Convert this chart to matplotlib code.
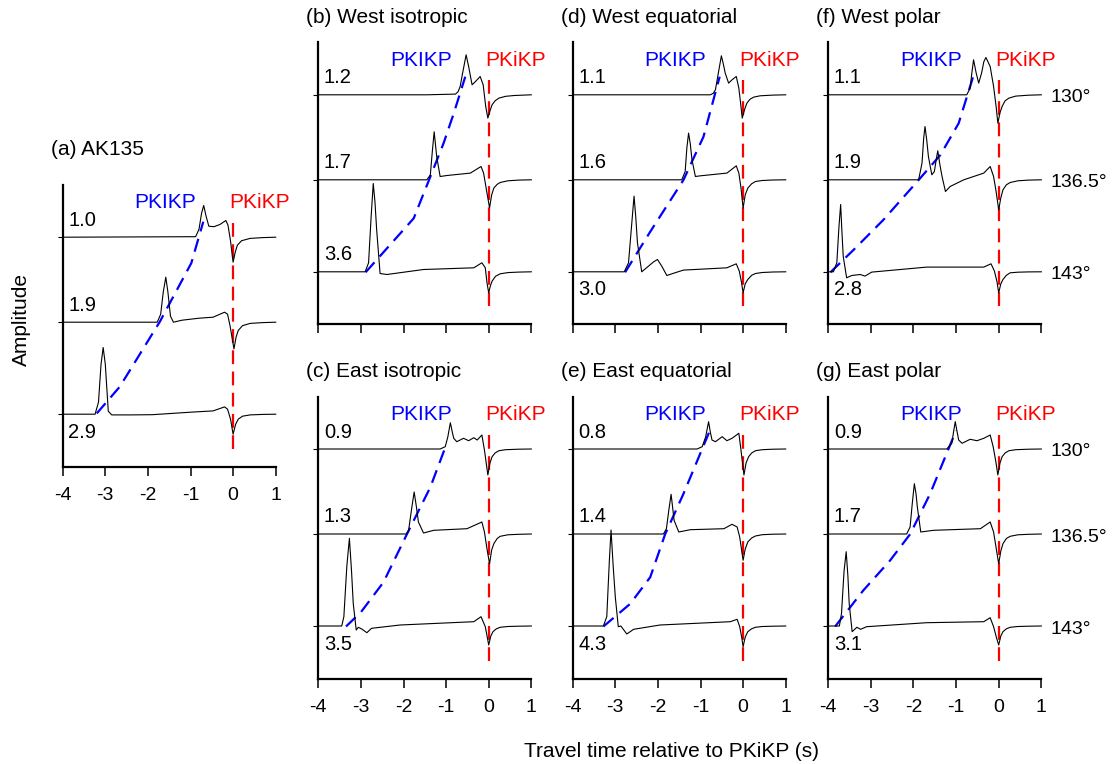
import matplotlib
matplotlib.use("Agg")
import matplotlib.pyplot as plt

plt.rcParams['font.family'] = ['Liberation Sans', 'DejaVu Sans']
plt.rcParams['axes.unicode_minus'] = False

W, H = 1112, 764

titles = ['(a) AK135', '(b) West isotropic', '(c) East isotropic',
          '(d) West equatorial', '(e) East equatorial',
          '(f) West polar', '(g) East polar']
distances = ['130°', '136.5°', '143°']

# amplitude scale factor written beside each trace (130, 136.5, 143 deg)
scale_a = ['1.0', '1.9', '2.9']
scale_b = ['1.2', '1.7', '3.6']
scale_c = ['0.9', '1.3', '3.5']
scale_d = ['1.1', '1.6', '3.0']
scale_e = ['0.8', '1.4', '4.3']
scale_f = ['1.1', '1.9', '2.8']
scale_g = ['0.9', '1.7', '3.1']

# traces: time (s, relative to PKiKP) and amplitude
t_a = [
    [-4, -0.88, -0.80, -0.74, -0.69, -0.64, -0.57, -0.45, -0.31, -0.17, -0.12, -0.06, 0.0, 0.05, 0.1, 0.2, 0.4, 0.7, 1.0],
    [-4, -1.78, -1.70, -1.64, -1.58, -1.53, -1.47, -1.40, -1.2, -0.8, -0.47, -0.2, -0.13, -0.07, 0.02, 0.07, 0.12, 0.22, 0.4, 0.7, 1.0],
    [-4, -3.24, -3.16, -3.10, -3.05, -3.00, -2.93, -2.85, -2.4, -1.9, -1.0, -0.47, -0.2, -0.13, -0.06, 0.0, 0.06, 0.12, 0.22, 0.4, 0.7, 1.0],
]
amp_a = [
    [0, 0.5, 8, 24, 31.7, 22, 11, 10.5, 12.7, 16.7, 12, -4, -25, -15, -8, -3.5, -1.2, -0.4, 0],
    [0, 0, 8, 30, 45, 30, 6, 0, 2, 4, 5, 10, 8, -4, -26.7, -15, -8.3, -3.5, -1.2, -0.4, 0],
    [0, 0, 12, 50, 66.7, 50, 3, -0.7, -0.7, -0.5, 2, 3.3, 7.3, 5, -5, -20, -10, -5, -2, -0.7, -0.2, 0],
]
t_b = [
    [-4, -1.45, -0.78, -0.72, -0.67, -0.62, -0.53, -0.47, -0.39, -0.31, -0.2, -0.13, -0.07, -0.02, 0.03, 0.08, 0.15, 0.24, 0.4, 0.6, 1.0],
    [-4, -1.45, -1.37, -1.32, -1.28, -1.22, -1.14, -0.98, -0.43, -0.18, -0.12, -0.04, 0.02, 0.07, 0.12, 0.2, 0.27, 0.45, 0.7, 1.0],
    [-4, -2.9, -2.82, -2.76, -2.71, -2.67, -2.63, -2.55, -2.39, -1.53, -0.35, -0.16, -0.08, -0.04, 0.0, 0.04, 0.08, 0.16, 0.27, 0.45, 0.7, 1.0],
]
amp_b = [
    [0, 0, 0.7, 3, 8.3, 20, 40, 28, 10, 13.3, 18.3, 10, -11.7, -23.3, -16, -10, -6, -3.3, -1.5, -0.7, 0],
    [0, 0, 5, 30, 48, 23, 3.3, 4.3, 6.7, 13.3, 6.7, -13.3, -28, -15, -8.3, -4.5, -2.7, -1, -0.3, 0],
    [0, 0, 9, 55, 88.3, 70, 42, -1.7, -2.7, 2.3, 4, 9, 4, -11, -21, -14, -9.3, -4.5, -2, -0.8, -0.3, 0],
]
t_c = [
    [-4, -1.14, -1.02, -0.96, -0.9, -0.85, -0.82, -0.75, -0.59, -0.47, -0.35, -0.27, -0.16, -0.1, -0.02, 0.03, 0.08, 0.15, 0.24, 0.4, 0.7, 1.0],
    [-4, -1.94, -1.88, -1.81, -1.75, -1.70, -1.65, -1.53, -1.29, -0.51, -0.16, -0.1, -0.04, 0.02, 0.07, 0.12, 0.2, 0.27, 0.45, 0.7, 1.0],
    [-4, -3.45, -3.4, -3.33, -3.27, -3.22, -3.18, -3.11, -3.06, -2.98, -2.86, -2.75, -2.08, -0.35, -0.18, -0.08, -0.03, 0.0, 0.05, 0.1, 0.18, 0.27, 0.45, 0.7, 1.0],
]
amp_c = [
    [0, 0, 2.3, 12, 26.3, 16, 10.7, 7.3, 10.7, 8.3, 11.3, 9, 14, -1, -26, -14, -7.7, -4, -1.7, -0.7, -0.2, 0],
    [0, 0, 3.7, 25, 42, 28, 12, 1, 3.7, 5.3, 12, 2, -15, -29.7, -16, -9.7, -4.5, -2.3, -0.8, -0.3, 0],
    [0, 0, 9.3, 60, 87.7, 55, 22.7, -4, -1.3, -3, -6.7, -2.3, 1, 4.3, 9.3, -0.7, -12, -19, -10, -5.7, -2.8, -1.3, -0.5, -0.2, 0],
]
t_d = [
    [-4, -0.77, -0.70, -0.65, -0.58, -0.51, -0.46, -0.42, -0.34, -0.26, -0.16, -0.1, -0.06, -0.02, 0.04, 0.09, 0.16, 0.25, 0.4, 0.7, 1.0],
    [-4, -1.44, -1.36, -1.32, -1.28, -1.24, -1.2, -1.12, -1.0, -0.38, -0.16, -0.1, -0.05, 0.0, 0.05, 0.11, 0.2, 0.29, 0.45, 0.7, 1.0],
    [-4, -2.79, -2.69, -2.62, -2.56, -2.52, -2.48, -2.38, -2.22, -2.1, -2.01, -1.91, -1.79, -1.6, -1.4, -0.38, -0.16, -0.09, -0.04, 0.0, 0.05, 0.11, 0.2, 0.29, 0.45, 0.7, 1.0],
]
amp_d = [
    [0, 0, 1.5, 5, 22, 39, 30, 21.7, 11.7, 15, 18.3, 6.7, -8, -23.3, -14, -8.3, -4.5, -2.3, -1, -0.3, 0],
    [0, 0, 8.3, 32, 46.7, 36, 20, 3.3, 4, 6.7, 14, 6.7, -8, -28.3, -15, -8.3, -4, -1.7, -0.7, -0.2, 0],
    [0, 0, 9, 45, 75.7, 55, 29, 0, 5.7, 10, 12.3, 5.7, -3.7, -1, 1.7, 4, 8, 0.7, -10, -21, -12, -7.7, -3.5, -1.7, -0.7, -0.2, 0],
]
t_e = [
    [-4, -1.08, -0.96, -0.88, -0.81, -0.77, -0.73, -0.65, -0.49, -0.38, -0.26, -0.1, -0.05, 0.02, 0.07, 0.13, 0.2, 0.29, 0.45, 0.7, 1.0],
    [-4, -1.87, -1.8, -1.74, -1.69, -1.65, -1.62, -1.51, -1.24, -0.45, -0.26, -0.14, -0.08, 0.0, 0.05, 0.11, 0.2, 0.29, 0.45, 0.7, 1.0],
    [-4, -3.28, -3.2, -3.14, -3.1, -3.05, -3.0, -2.93, -2.87, -2.73, -2.57, -1.95, -0.3, -0.14, -0.08, -0.03, 0.0, 0.05, 0.11, 0.2, 0.29, 0.45, 0.7, 1.0],
]
amp_e = [
    [0, 0, 2.3, 12, 27.3, 17, 9, 7.3, 12.3, 8.3, 10.7, 15.7, -1, -26, -14, -7.7, -4, -1.7, -0.7, -0.2, 0],
    [0, 0, 5.3, 25, 39.7, 25, 13.7, 2, 4.3, 5.3, 9.7, 7, -3, -26.3, -15, -8, -4, -2, -0.7, -0.2, 0],
    [0, 0, 9.3, 65, 96, 60, 29, -0.7, 0, -8, -3.3, 1, 4.3, 6.7, -0.7, -12, -20.7, -11, -5.7, -2.8, -1.3, -0.5, -0.2, 0],
]
t_f = [
    [-4, -0.75, -0.67, -0.63, -0.59, -0.53, -0.47, -0.40, -0.35, -0.3, -0.2, -0.12, -0.06, -0.02, 0.03, 0.08, 0.15, 0.24, 0.4, 0.7, 1.0],
    [-4, -1.88, -1.8, -1.76, -1.73, -1.69, -1.65, -1.57, -1.51, -1.46, -1.43, -1.38, -1.33, -1.25, -1.14, -0.82, -0.35, -0.2, -0.12, -0.06, 0.0, 0.05, 0.1, 0.18, 0.27, 0.45, 0.7, 1.0],
    [-4, -3.88, -3.8, -3.75, -3.71, -3.68, -3.65, -3.57, -3.45, -3.25, -3.14, -2.98, -1.69, -0.35, -0.18, -0.1, -0.04, 0.0, 0.05, 0.1, 0.18, 0.27, 0.45, 0.7, 1.0],
]
amp_f = [
    [0, 0, 6.7, 22, 35, 22, 11.7, 22, 33, 37.3, 28.3, 8.3, -12, -28.3, -18, -11.7, -6, -3.3, -1.3, -0.4, 0],
    [0, 0, 16.7, 42, 53.3, 40, 23.3, 5, 8.3, 22, 29, 15, 3.3, -11.7, -6.7, 0, 6.7, 13.3, 3.3, -12, -30, -18, -10, -5, -2.7, -1, -0.3, 0],
    [0, 0, 9, 45, 67.3, 40, 15.7, -6, -3.7, -2.7, -4.3, -0.3, 4.7, 4.7, 8, 0.7, -10, -21, -12, -7.7, -3.5, -1, -0.4, -0.1, 0],
]
t_g = [
    [-4, -1.22, -1.1, -1.06, -1.02, -0.98, -0.94, -0.86, -0.67, -0.51, -0.35, -0.2, -0.13, -0.07, -0.02, 0.03, 0.08, 0.15, 0.24, 0.4, 0.7, 1.0],
    [-4, -2.16, -2.08, -2.03, -1.98, -1.94, -1.91, -1.83, -1.53, -0.43, -0.2, -0.12, -0.06, 0.0, 0.05, 0.1, 0.18, 0.27, 0.45, 0.7, 1.0],
    [-4, -3.74, -3.69, -3.63, -3.58, -3.54, -3.51, -3.44, -3.33, -3.24, -3.1, -1.69, -0.35, -0.2, -0.12, -0.05, 0.0, 0.05, 0.1, 0.18, 0.27, 0.45, 0.7, 1.0],
]
amp_g = [
    [0, 0, 5.7, 17, 27.3, 18, 9, 5.7, 9.7, 8.3, 10.7, 14, 2.3, -12, -26, -14, -7.7, -4, -1.7, -0.7, -0.2, 0],
    [0, 0, 7, 30, 50.3, 40, 27, 2, 3.7, 5.3, 12, 2, -14, -29.7, -17, -9.7, -4.5, -2.3, -0.8, -0.3, 0],
    [0, 0, 12.7, 55, 74.3, 50, 22.7, -5.7, -1.3, -3.3, -0.7, 3.3, 4.3, 8.3, -0.7, -12, -19, -10, -5.7, -2.8, -1.3, -0.5, -0.2, 0],
]

# predicted PKIKP arrival curve (time, vertical position)
pkikp_t_a = [-3.2, -2.66, -1.72, -0.98, -0.70]
pkikp_y_a = [53.3, 80, 145, 203.7, 245]
pkikp_t_b = [-2.89, -1.76, -1.37, -1.06, -0.82, -0.55]
pkikp_y_b = [52, 106, 147.6, 181, 211, 247.6]
pkikp_t_c = [-3.35, -3.0, -2.47, -1.92, -1.37, -1.02]
pkikp_y_c = [52, 66.3, 96.3, 144.3, 191.3, 231]
pkikp_t_d = [-2.77, -2.18, -1.4, -0.93, -0.55]
pkikp_y_d = [52, 92.6, 144.3, 187.6, 247.6]
pkikp_t_e = [-3.28, -2.65, -2.18, -1.83, -1.4, -0.78]
pkikp_y_e = [52, 74.7, 101.3, 144.3, 184.7, 248]
pkikp_t_f = [-3.95, -3.41, -2.71, -1.88, -1.37, -0.94, -0.6]
pkikp_y_f = [52, 74.3, 104.3, 144.3, 169.3, 201, 247.6]
pkikp_t_g = [-3.84, -3.18, -2.55, -2.08, -1.61, -1.29, -1.0]
pkikp_y_g = [52, 88, 118, 144.3, 184.7, 218, 248]

baselines = [229.5, 144.5, 52.5]

fig = plt.figure(figsize=(W / 100, H / 100), dpi=100)

# left px, bottom-spine px, title offset px, x labels?, last scale label above?, ..., distances?
panels = [
    (62.7, 466.7, 35, True, False, t_a, amp_a, scale_a, pkikp_t_a, pkikp_y_a, False),
    (318.3, 324.3, 25, False, True, t_b, amp_b, scale_b, pkikp_t_b, pkikp_y_b, False),
    (318.3, 678.5, 25, True, False, t_c, amp_c, scale_c, pkikp_t_c, pkikp_y_c, False),
    (572.7, 324.3, 25, False, False, t_d, amp_d, scale_d, pkikp_t_d, pkikp_y_d, False),
    (572.7, 678.5, 25, True, False, t_e, amp_e, scale_e, pkikp_t_e, pkikp_y_e, False),
    (828.3, 324.3, 25, False, False, t_f, amp_f, scale_f, pkikp_t_f, pkikp_y_f, True),
    (828.3, 678.5, 25, True, False, t_g, amp_g, scale_g, pkikp_t_g, pkikp_y_g, True),
]

for i, (lx, sy, toff, xlab, last_up, ts, amps, scales, pt, py, dist) in enumerate(panels):
    ax = fig.add_axes([lx / W, (H - sy) / H, 213 / W, 282 / H])
    ax.set_xlim(-4, 1)
    ax.set_ylim(0, 282)
    for s in ['top', 'right']:
        ax.spines[s].set_visible(False)
    for s in ['left', 'bottom']:
        ax.spines[s].set_linewidth(1.6)
    ax.set_xticks([-4, -3, -2, -1, 0, 1])
    ax.set_yticks(baselines)
    ax.set_yticklabels([])
    ax.tick_params(axis='x', direction='out', length=6.5, width=1.1, labelsize=14, pad=8)
    ax.tick_params(axis='y', direction='out', length=3.5, width=0.8)
    if not xlab:
        ax.set_xticklabels([])

    for k in range(3):
        y = [baselines[k] + a for a in amps[k]]
        ax.plot(ts[k], y, color='black', lw=0.8, clip_on=False, zorder=3)
        if k < 2 or last_up:
            ty = baselines[k] + 17
        else:
            ty = baselines[k] - 18
        ax.text(-3.87, ty, scales[k], fontsize=14.5, ha='left', va='center')
        if dist:
            ax.text(1.22, baselines[k] - 3, distances[k], fontsize=14, ha='left',
                    va='center', clip_on=False)

    ax.plot(pt, py, color='#0000ff', lw=1.6, dashes=(6, 3.5), zorder=2)
    # drawn top-down so the dash pattern starts under the label
    ax.plot([0, 0], [244, 18], color='#ff0000', lw=1.6, dashes=(6.2, 3.35), zorder=2)
    ax.text(-0.87, 264, 'PKIKP', color='#0000ff', fontsize=15, ha='right', va='center')
    ax.text(-0.08, 264, 'PKiKP', color='#ff0000', fontsize=15, ha='left', va='center',
            clip_on=False)

    ax.annotate(titles[i], xy=(0, 1), xycoords='axes fraction', xytext=(-12, toff),
                textcoords='offset pixels', fontsize=15, ha='left', va='center',
                annotation_clip=False)

fig.text(21.7 / W, 1 - 320 / H, 'Amplitude', rotation=90, fontsize=15,
         ha='center', va='center')
fig.text(672 / W, 1 - 751.7 / H, 'Travel time relative to PKiKP (s)', fontsize=15,
         ha='center', va='center')

fig.savefig('out.png', dpi=100)
